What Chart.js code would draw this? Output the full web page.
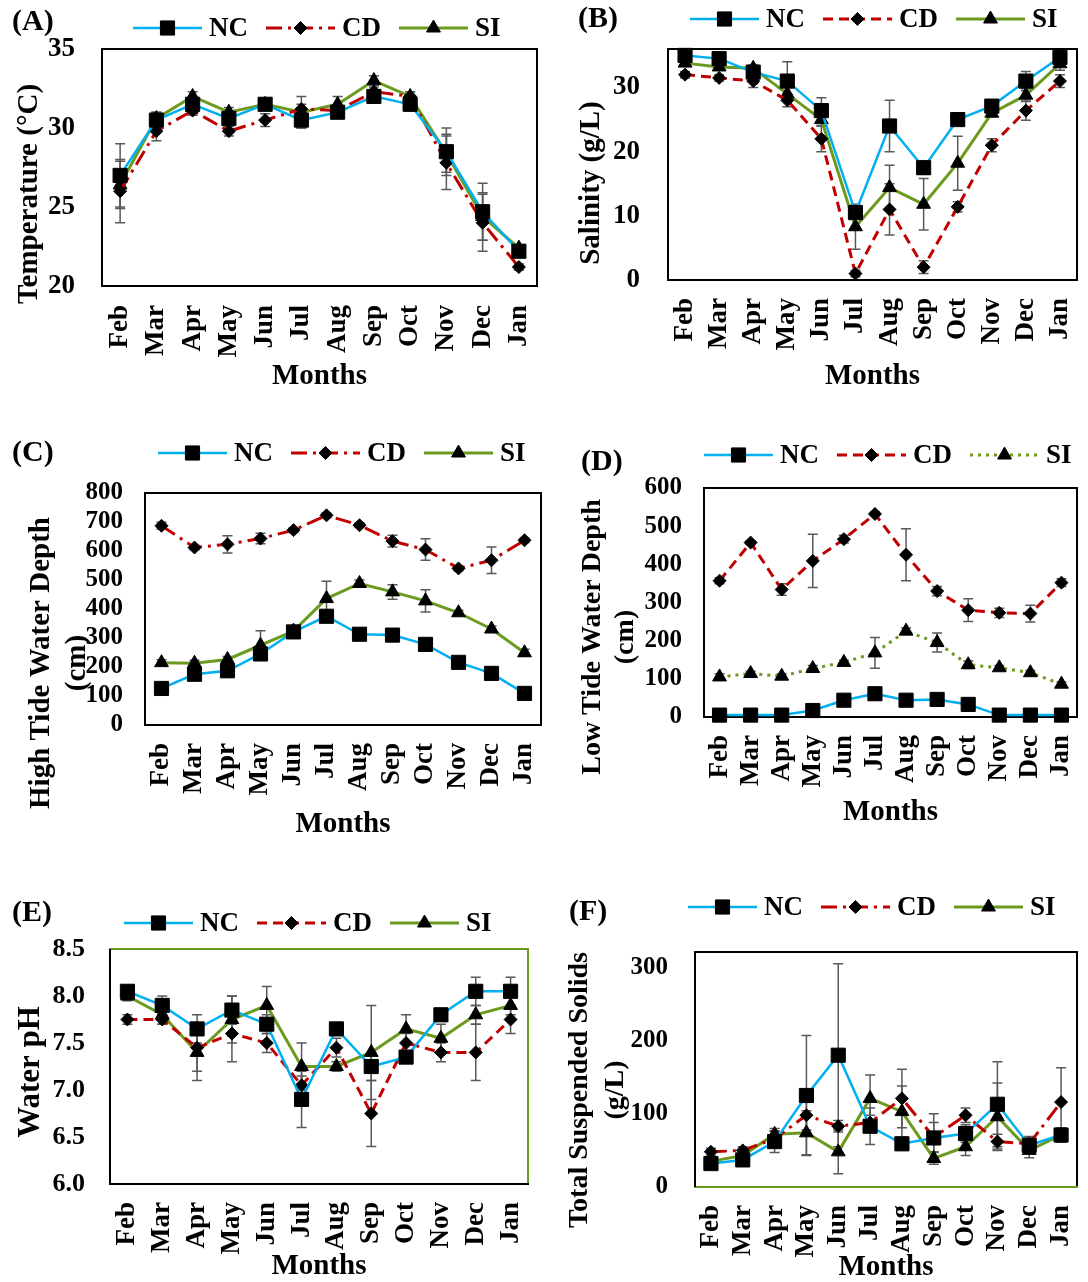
<!DOCTYPE html>
<html>
<head>
<meta charset="utf-8">
<script src="https://cdn.jsdelivr.net/npm/chart.js@4.4.1/dist/chart.umd.min.js"></script>
<style>
  body { margin: 0; background: #fff; width: 1088px; height: 1282px; overflow: hidden; position: relative; }
  canvas { position: absolute; }
</style>
</head>
<body>
<canvas id="cA"></canvas>
<canvas id="cB"></canvas>
<canvas id="cC"></canvas>
<canvas id="cD"></canvas>
<canvas id="cE"></canvas>
<canvas id="cF"></canvas>
<script>
const FONT = "'Liberation Serif', 'Times New Roman', serif";

const months = ["Feb", "Mar", "Apr", "May", "Jun", "Jul", "Aug", "Sep", "Oct", "Nov", "Dec", "Jan"];
const seriesNames = ["NC", "CD", "SI"];

// (A) temperatura
const tempNC = [27.0, 30.5, 31.5, 30.6, 31.5, 30.5, 31.0, 32.0, 31.5, 28.5, 24.7, 22.2];
const tempCD = [26.0, 29.8, 31.1, 29.8, 30.5, 31.2, 31.1, 32.3, 32.0, 27.8, 24.0, 21.2];
const tempSI = [26.4, 30.6, 32.0, 31.0, 31.5, 31.0, 31.5, 33.0, 32.0, 28.4, 24.4, 22.4];
const tempErrNC = [2.0, 0.5, 0.3, 0.3, 0.4, 0.5, 0.3, 0.3, 0.4, 1.5, 1.8, 0.2];
const tempErrCD = [2.0, 0.6, 0.3, 0.3, 0.4, 0.3, 0.2, 0.3, 0.3, 1.7, 1.8, 0.2];
const tempErrSI = [1.5, 0.4, 0.3, 0.3, 0.3, 1.0, 0.5, 0.3, 0.3, 1.2, 1.5, 0.2];

// (B) salinidad
const salNC = [35.0, 34.5, 32.4, 31.0, 26.4, 10.5, 24.0, 17.5, 25.0, 27.1, 31.0, 34.7];
const salCD = [32.0, 31.5, 31.0, 28.0, 22.0, 1.0, 11.0, 2.0, 11.4, 21.0, 26.4, 31.0];
const salSI = [33.8, 33.2, 33.0, 29.0, 25.0, 8.3, 14.4, 11.8, 18.2, 26.0, 28.8, 33.7];
const salErrNC = [0.5, 0.5, 1.0, 3.0, 2.0, 1.0, 4.0, 1.0, 0.5, 1.0, 1.5, 1.0];
const salErrCD = [0.5, 0.5, 1.0, 1.0, 2.0, 0.5, 4.0, 1.0, 0.8, 1.0, 1.5, 1.0];
const salErrSI = [0.5, 0.5, 0.5, 1.0, 1.0, 3.5, 3.5, 4.0, 4.2, 0.5, 1.0, 1.0];

// (C) marea alta
const highNC = [126, 175, 187, 245, 321, 375, 313, 310, 278, 216, 178, 109];
const highCD = [687, 612, 623, 643, 672, 723, 689, 634, 605, 540, 568, 637];
const highSI = [215, 213, 226, 275, 324, 436, 488, 459, 428, 387, 331, 249];
const highErrNC = [15, 15, 15, 20, 15, 20, 15, 15, 15, 15, 15, 15];
const highErrCD = [12, 8, 30, 18, 8, 8, 8, 20, 37, 8, 46, 8];
const highErrSI = [10, 10, 10, 50, 10, 60, 12, 25, 38, 8, 10, 12];

// (D) marea baja
const lowNC = [5, 5, 5, 17, 44, 61, 44, 46, 33, 5, 5, 5];
const lowCD = [357, 457, 334, 409, 466, 532, 425, 330, 280, 273, 271, 352];
const lowSI = [105, 114, 107, 127, 143, 168, 225, 195, 137, 129, 116, 86];
const lowErrNC = [3, 3, 3, 3, 8, 15, 5, 5, 5, 3, 3, 3];
const lowErrCD = [8, 5, 15, 70, 10, 5, 68, 12, 30, 12, 22, 10];
const lowErrSI = [8, 6, 6, 8, 6, 40, 8, 25, 10, 6, 6, 6];

// (E) pH
const phNC = [8.05, 7.9, 7.65, 7.85, 7.7, 6.9, 7.65, 7.25, 7.35, 7.8, 8.05, 8.05];
const phCD = [7.75, 7.75, 7.45, 7.6, 7.5, 7.05, 7.45, 6.75, 7.5, 7.4, 7.4, 7.75];
const phSI = [8.0, 7.8, 7.4, 7.75, 7.9, 7.25, 7.25, 7.4, 7.65, 7.55, 7.8, 7.9];
const phErrNC = [0.05, 0.1, 0.15, 0.15, 0.1, 0.3, 0.05, 0.15, 0.05, 0.05, 0.15, 0.15];
const phErrCD = [0.05, 0.05, 0.25, 0.3, 0.1, 0.1, 0.1, 0.35, 0.1, 0.1, 0.3, 0.15];
const phErrSI = [0.05, 0.1, 0.3, 0.25, 0.2, 0.25, 0.05, 0.5, 0.15, 0.15, 0.1, 0.1];

// (F) solidos suspendidos
const tssNC = [32, 37, 62, 125, 180, 83, 59, 67, 73, 113, 57, 71];
const tssCD = [48, 50, 66, 98, 83, 88, 121, 68, 98, 62, 59, 116];
const tssSI = [35, 43, 72, 74, 48, 121, 103, 39, 55, 96, 50, 71];
const tssErrNC = [5, 8, 15, 82, 125, 25, 8, 33, 12, 58, 10, 10];
const tssErrCD = [5, 5, 10, 20, 8, 10, 40, 20, 10, 10, 10, 47];
const tssErrSI = [5, 5, 8, 30, 30, 32, 35, 8, 12, 46, 10, 8];

const BLUE = "#00B0F0";
const RED = "#C00000";
const GREEN = "#6B9A1E";
const dashDot = [16, 6, 3, 6];
const dashed = [10, 6];
const dotted = [3, 5];

const estilos = [
    { borderColor: BLUE, borderWidth: 2.5, pointStyle: "rect", pointRadius: 10 },
    { borderColor: RED, borderWidth: 3, pointStyle: "rectRot", pointRadius: 6.5 },
    { borderColor: GREEN, borderWidth: 3, pointStyle: "triangle", pointRadius: 8 }
];

const paneles = [
    { id: "cA", x: 0, y: 0, w: 548, h: 400, box: [102, 49, 540, 286],
      series: [[tempNC, tempErrNC], [tempCD, tempErrCD], [tempSI, tempErrSI]],
      min: 20, max: 35, step: 5, dec: 0, yTickRight: 75, yTickSize: 27, xLabelTop: 305, monthsY: 377,
      cdDash: dashDot, siDash: [], legendX: 133, legendY: 28, letter: "(A)", letterX: 12, letterY: 22,
      titles: [{ text: "Temperature (°C)", x: 30, y: 194, size: 29 }] },
    { id: "cB", x: 548, y: 0, w: 540, h: 400, box: [668, 49, 1085, 280],
      series: [[salNC, salErrNC], [salCD, salErrCD], [salSI, salErrSI]],
      min: 0, max: 36, step: 10, dec: 0, yTickRight: 640, yTickSize: 27, xLabelTop: 298, monthsY: 377,
      cdDash: dashed, siDash: [], legendX: 690, legendY: 19, letter: "(B)", letterX: 578, letterY: 19,
      titles: [{ text: "Salinity (g/L)", x: 592, y: 183, size: 29 }] },
    { id: "cC", x: 0, y: 420, w: 552, h: 440, box: [145, 493, 547, 725],
      series: [[highNC, highErrNC], [highCD, highErrCD], [highSI, highErrSI]],
      min: 0, max: 800, step: 100, dec: 0, yTickRight: 123, yTickSize: 25, xLabelTop: 743, monthsY: 825,
      cdDash: dashDot, siDash: [], legendX: 158, legendY: 453, letter: "(C)", letterX: 12, letterY: 453,
      titles: [{ text: "High Tide Water Depth", x: 42, y: 663, size: 29 }, { text: "(cm)", x: 78, y: 663, size: 29 }] },
    { id: "cD", x: 552, y: 420, w: 536, h: 440, box: [704, 488, 1087, 717],
      series: [[lowNC, lowErrNC], [lowCD, lowErrCD], [lowSI, lowErrSI]],
      min: 0, max: 600, step: 100, dec: 0, yTickRight: 682, yTickSize: 25, xLabelTop: 735, monthsY: 813,
      cdDash: dashed, siDash: dotted, legendX: 704, legendY: 455, letter: "(D)", letterX: 581, letterY: 462,
      titles: [{ text: "Low Tide Water Depth", x: 593, y: 637, size: 28 }, { text: "(cm)", x: 626, y: 637, size: 28 }] },
    { id: "cE", x: 0, y: 880, w: 548, h: 402, box: [110, 949, 528, 1184],
      series: [[phNC, phErrNC], [phCD, phErrCD], [phSI, phErrSI]],
      min: 6, max: 8.5, step: 0.5, dec: 1, yTickRight: 85, yTickSize: 26, xLabelTop: 1202, monthsY: 1267,
      cdDash: dashed, siDash: [], legendX: 124, legendY: 923, letter: "(E)", letterX: 12, letterY: 913,
      frame: { top: GREEN, right: GREEN },
      titles: [{ text: "Water pH", x: 31, y: 1072, size: 31 }] },
    { id: "cF", x: 548, y: 880, w: 540, h: 402, box: [695, 952, 1077, 1187],
      series: [[tssNC, tssErrNC], [tssCD, tssErrCD], [tssSI, tssErrSI]],
      min: 0, max: 321, step: 100, dec: 0, yTickRight: 668, yTickSize: 25, xLabelTop: 1205, monthsY: 1268,
      cdDash: dashDot, siDash: [], legendX: 688, legendY: 907, letter: "(F)", letterX: 569, letterY: 912,
      frame: { bottom: GREEN },
      titles: [{ text: "Total Suspended Solids", x: 580, y: 1090, size: 28 }, { text: "(g/L)", x: 616, y: 1090, size: 28 }] }
];

function dibujarMarcador(ctx, ds, x, y) {
    ctx.fillStyle = "#000";
    ctx.strokeStyle = "#000";
    ctx.lineWidth = 1;
    ctx.setLineDash([]);
    Chart.helpers.drawPoint(ctx, { pointStyle: ds.pointStyle, radius: ds.pointRadius, rotation: 0, borderWidth: 1 }, x, y);
}

// Marco del area de trazado
const marcoPlugin = {
    id: "marco",
    beforeDatasetsDraw(chart, args, o) {
        const { left, top, right, bottom } = chart.chartArea;
        const ctx = chart.ctx;
        const c = Object.assign({ top: "#000", right: "#000", bottom: "#000", left: "#000" }, o.colors || {});
        ctx.save();
        ctx.lineWidth = 2;
        const lado = (col, x1, y1, x2, y2) => {
            ctx.strokeStyle = col;
            ctx.beginPath(); ctx.moveTo(x1, y1); ctx.lineTo(x2, y2); ctx.stroke();
        };
        lado(c.top, left - 1, top, right + 1, top);
        lado(c.right, right, top, right, bottom);
        lado(c.bottom, left - 1, bottom, right + 1, bottom);
        lado(c.left, left, top, left, bottom);
        ctx.restore();
    }
};

// Barras de error
const erroresPlugin = {
    id: "errores",
    beforeDatasetsDraw(chart) {
        const ctx = chart.ctx;
        const yScale = chart.scales.y;
        ctx.save();
        ctx.strokeStyle = "#595959";
        ctx.lineWidth = 1.5;
        chart.data.datasets.forEach((ds, i) => {
            const meta = chart.getDatasetMeta(i);
            ds.data.forEach((v, j) => {
                const e = ds.errors[j];
                const x = meta.data[j].x;
                const y1 = yScale.getPixelForValue(v + e);
                const y2 = yScale.getPixelForValue(v - e);
                ctx.beginPath();
                ctx.moveTo(x, y1); ctx.lineTo(x, y2);
                ctx.moveTo(x - 5, y1); ctx.lineTo(x + 5, y1);
                ctx.moveTo(x - 5, y2); ctx.lineTo(x + 5, y2);
                ctx.stroke();
            });
        });
        ctx.restore();
    }
};

// Leyenda, letra del panel y titulo del eje Y
const decoPlugin = {
    id: "deco",
    afterDraw(chart, args, o) {
        const ctx = chart.ctx;
        ctx.save();
        ctx.fillStyle = "#000";
        ctx.textBaseline = "middle";
        ctx.textAlign = "left";
        ctx.font = "bold 30px " + FONT;
        ctx.fillText(o.letter, o.letterX, o.letterY);

        o.titles.forEach(t => {
            ctx.save();
            ctx.translate(t.x, t.y);
            ctx.rotate(-Math.PI / 2);
            ctx.textAlign = "center";
            ctx.font = "bold " + t.size + "px " + FONT;
            ctx.fillText(t.text, 0, 0);
            ctx.restore();
        });

        let x = o.legendX;
        const y = o.legendY;
        chart.data.datasets.forEach(ds => {
            ctx.save();
            ctx.strokeStyle = ds.borderColor;
            ctx.lineWidth = ds.borderWidth;
            ctx.setLineDash(ds.borderDash || []);
            ctx.beginPath(); ctx.moveTo(x, y); ctx.lineTo(x + 69, y); ctx.stroke();
            ctx.restore();
            ctx.save();
            dibujarMarcador(ctx, ds, x + 34.5, y);
            ctx.restore();
            ctx.font = "bold 27px " + FONT;
            ctx.fillStyle = "#000";
            ctx.fillText(ds.label, x + 76, y + 1);
            x += 76 + ctx.measureText(ds.label).width + 18;
        });
        ctx.restore();
    }
};

function crearPanel(p) {
    const canvas = document.getElementById(p.id);
    canvas.width = p.w;
    canvas.height = p.h;
    canvas.style.left = p.x + "px";
    canvas.style.top = p.y + "px";
    const [bl, bt, br, bb] = p.box;

    const datasets = p.series.map((s, i) => Object.assign({
        label: seriesNames[i],
        data: s[0],
        errors: s[1],
        borderDash: i === 1 ? p.cdDash : (i === 2 ? p.siDash : []),
        pointBackgroundColor: "#000",
        pointBorderColor: "#000",
        pointBorderWidth: 1,
        tension: 0,
        fill: false,
        clip: false
    }, estilos[i]));

    new Chart(canvas, {
        type: "line",
        data: { labels: months, datasets: datasets },
        options: {
            responsive: false,
            animation: false,
            devicePixelRatio: 1,
            events: [],
            layout: { padding: { left: 0, top: bt - p.y, right: p.x + p.w - br, bottom: 0 } },
            plugins: {
                legend: { display: false },
                tooltip: { enabled: false },
                marco: { colors: p.frame },
                deco: {
                    letter: p.letter, letterX: p.letterX - p.x, letterY: p.letterY - p.y,
                    legendX: p.legendX - p.x, legendY: p.legendY - p.y,
                    titles: p.titles.map(t => ({ text: t.text, size: t.size, x: t.x - p.x, y: t.y - p.y }))
                }
            },
            scales: {
                x: {
                    type: "category",
                    offset: true,
                    grid: { display: false, drawTicks: true, tickLength: p.xLabelTop - bb },
                    border: { display: false },
                    ticks: {
                        autoSkip: false, minRotation: 90, maxRotation: 90, padding: 0,
                        color: "#000", font: { family: FONT, weight: "bold", size: 27 }
                    },
                    title: {
                        display: true, text: "Months", color: "#000",
                        font: { family: FONT, weight: "bold", size: 29, lineHeight: 1 },
                        padding: { top: 0, bottom: Math.max(0, p.y + p.h - p.monthsY - 14.5) }
                    },
                    afterFit: s => { s.height = p.y + p.h - bb; s.paddingLeft = 0; s.paddingRight = 0; }
                },
                y: {
                    min: p.min, max: p.max,
                    grid: { display: false, drawTicks: false },
                    border: { display: false },
                    ticks: {
                        autoSkip: false,
                        stepSize: p.step, includeBounds: false, padding: bl - p.yTickRight,
                        color: "#000", font: { family: FONT, weight: "bold", size: p.yTickSize },
                        callback: v => (Math.abs(v / p.step - Math.round(v / p.step)) < 1e-6 ? v.toFixed(p.dec) : "")
                    },
                    afterFit: s => { s.width = bl - p.x; s.paddingTop = 0; s.paddingBottom = 0; }
                }
            }
        },
        plugins: [marcoPlugin, erroresPlugin, decoPlugin]
    });
}

document.addEventListener("DOMContentLoaded", function () {
    paneles.forEach(crearPanel);
});
</script>
</body>
</html>
